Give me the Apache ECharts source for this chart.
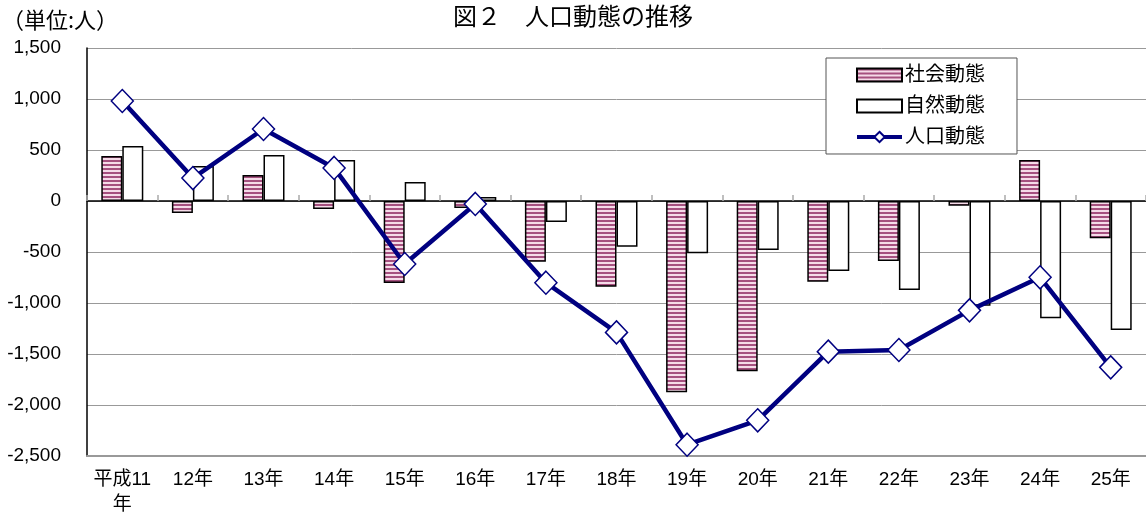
<!DOCTYPE html>
<html>
<head>
<meta charset="utf-8">
<script src="https://cdn.jsdelivr.net/npm/echarts@6/dist/echarts.min.js"></script>
<style>
html,body{margin:0;padding:0;background:#fff;}
#chart{width:1146px;height:523px;}
</style>
</head>
<body>
<div id="chart"></div>
<script>
const categories = ['平成11年','12年','13年','14年','15年','16年','17年','18年','19年','20年','21年','22年','23年','24年','25年'];
const socialValues = [441, -118, 255, -78, -804, -69, -595, -840, -1876, -1670, -791, -588, -46, 402, -366];
const naturalValues = [539, 343, 451, 402, 186, 39, -206, -448, -513, -480, -686, -873, -1026, -1150, -1265];
const populationValues = [980, 225, 706, 324, -618, -29, -801, -1288, -2389, -2150, -1477, -1461, -1072, -748, -1631];
const yTicks = {min: -2500, max: 1500, interval: 500};

const FONT = '"Liberation Sans", "Noto Sans CJK JP", sans-serif';

const pc = document.createElement('canvas');
pc.width = 4; pc.height = 4;
const pctx = pc.getContext('2d');
pctx.fillStyle = '#f5dbe8';
pctx.fillRect(0, 0, 4, 4);
pctx.fillStyle = '#a5507f';
pctx.fillRect(0, 0, 4, 2);

const chart = echarts.init(document.getElementById('chart'), null, {renderer: 'canvas'});
chart.setOption({
  animation: false,
  backgroundColor: '#fff',
  title: {
    text: '図２　人口動態の推移',
    left: 'center',
    top: -1,
    textStyle: {fontFamily: '"Noto Sans CJK JP", serif', fontSize: 24, fontWeight: 'normal', color: '#000'}
  },
  graphic: [{
    type: 'text', left: 2, top: 9,
    style: {text: '（単位:人）', font: '22px "Noto Sans CJK JP", sans-serif', fill: '#000'}
  }],
  legend: {
    orient: 'vertical',
    left: 826, top: 58,
    itemWidth: 45, itemHeight: 13,
    itemGap: 11,
    padding: [7, 32, 7, 29],
    borderColor: '#555', borderWidth: 1,
    backgroundColor: '#fff',
    textStyle: {fontFamily: FONT, fontSize: 20, color: '#000', padding: [0, 0, 0, -2]},
    data: [
      {name: '社会動態', icon: 'rect'},
      {name: '自然動態', icon: 'rect'},
      {name: '人口動態', lineStyle: {width: 4, color: '#000080'}}
    ]
  },
  grid: {left: 87, right: 0, top: 48, bottom: 67, containLabel: false},
  xAxis: [{
    type: 'category',
    data: categories,
    position: 'bottom',
    axisLine: {onZero: false, lineStyle: {color: '#999', width: 2}},
    axisTick: {show: false},
    axisLabel: {
      fontFamily: FONT, fontSize: 19, color: '#000', margin: 11, interval: 0,
      formatter: v => v === '平成11年' ? '平成11\n年' : v,
      lineHeight: 25
    }
  }, {
    type: 'category',
    data: categories,
    position: 'bottom',
    axisLine: {onZero: true, lineStyle: {color: '#000', width: 1.5}},
    axisTick: {show: true, inside: true, length: 6, lineStyle: {color: '#aaa', width: 1.5}},
    axisLabel: {show: false}
  }],
  yAxis: {
    type: 'value',
    min: yTicks.min, max: yTicks.max, interval: yTicks.interval,
    axisLine: {show: true, lineStyle: {color: '#000', width: 1.5}},
    axisTick: {show: false},
    splitLine: {lineStyle: {color: '#999', width: 1}},
    axisLabel: {
      fontFamily: FONT, fontSize: 19, color: '#000', margin: 26,
      formatter: v => v.toLocaleString('en-US')
    }
  },
  series: [{
    name: '社会動態',
    type: 'bar',
    data: socialValues,
    barWidth: 21,
    barGap: '0%',
    itemStyle: {color: {image: pc, repeat: 'repeat'}, borderColor: '#000', borderWidth: 1.5}
  }, {
    name: '自然動態',
    type: 'bar',
    data: naturalValues,
    barWidth: 21,
    barGap: '0%',
    itemStyle: {color: '#fff', borderColor: '#000', borderWidth: 1.5}
  }, {
    name: '人口動態',
    type: 'line',
    data: populationValues,
    z: 5,
    symbol: 'diamond',
    symbolSize: [22, 23],
    lineStyle: {color: '#000080', width: 4.5},
    itemStyle: {color: '#fff', borderColor: '#000080', borderWidth: 1.5}
  }]
});
</script>
</body>
</html>
